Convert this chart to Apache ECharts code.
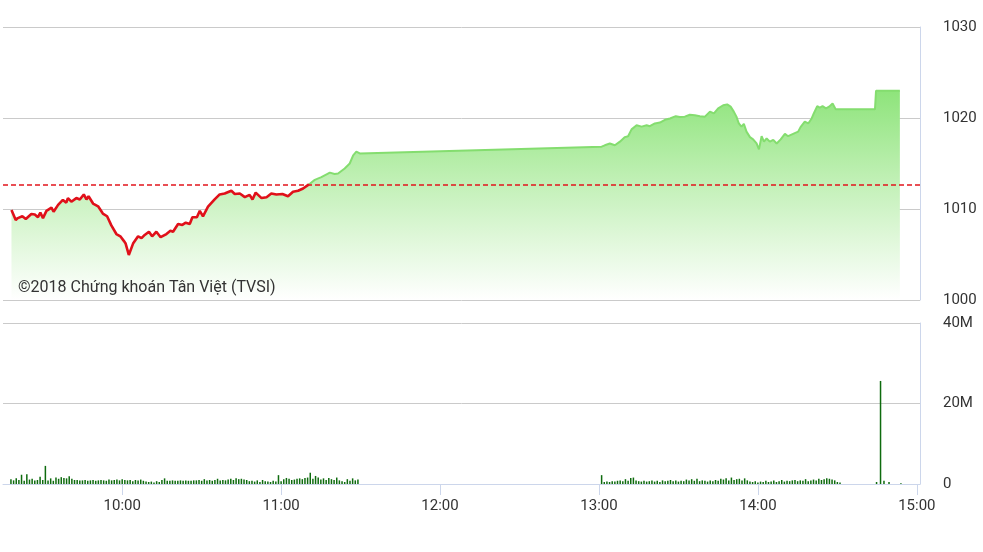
<!DOCTYPE html>
<html>
<head>
<meta charset="utf-8">
<script src="https://cdn.jsdelivr.net/npm/echarts@6/dist/echarts.min.js"></script>
<style>
html,body{margin:0;padding:0;background:#fff;}
#chart{width:983px;height:552px;}
</style>
</head>
<body>
<div id="chart"></div>
<script>
// ---- data (time in minutes of the day) ----
var referencePrice = 1012.64;

var morningTimes = [558.2,559.8,560.6,562.3,563.6,565.7,567.0,568.2,569.1,570.1,571.4,573.3,574.1,575.8,577.6,578.9,579.5,580.8,582.7,584.0,585.5,586.5,587.3,589.0,590.9,592.7,594.3,595.9,597.8,599.3,600.6,601.3,602.5,604.1,606.0,607.3,608.5,610.1,611.3,612.9,614.5,616.7,618.2,619.2,621.1,622.7,624.0,625.5,626.5,628.2,629.3,630.5,632.4,634.9,636.8,638.7,641.2,642.5,644.4,646.3,648.1,649.2,650.4,652.6,654.5,656.3,658.2,660.5,662.6,664.5,666.4,668.3,670.5,672.7,675.2,678.4,680.2,681.5,684.0,685.9,687.2,688.4,689.7];
var morningPrices = [1009.9,1008.8,1009.0,1009.2,1008.9,1009.45,1009.4,1009.1,1009.6,1009.0,1009.8,1010.15,1009.7,1010.45,1011.0,1010.7,1011.2,1010.8,1011.2,1011.05,1011.6,1011.05,1011.4,1010.6,1010.3,1009.5,1009.2,1008.2,1007.25,1007.0,1006.5,1006.2,1004.95,1006.2,1007.0,1006.8,1007.15,1007.5,1007.0,1007.5,1006.9,1007.25,1007.6,1007.5,1008.35,1008.25,1008.5,1008.35,1009.1,1009.1,1009.8,1009.2,1010.25,1011.05,1011.6,1011.7,1012.0,1011.65,1011.7,1011.3,1011.55,1011.05,1011.8,1011.2,1011.3,1011.7,1011.6,1011.65,1011.4,1011.9,1012.0,1012.25,1012.7,1013.2,1013.5,1014.0,1013.85,1013.9,1014.45,1015.0,1015.9,1016.3,1016.1];

var afternoonTimes = [781.0,782.2,782.9,784.1,784.7,786.0,787.9,788.5,789.8,791.0,792.3,794.2,796.1,798.0,799.2,801.1,803.0,804.9,806.8,809.0,810.5,812.4,814.3,816.2,818.1,820.0,821.9,823.4,825.0,826.9,828.4,829.7,830.9,831.9,832.8,833.8,834.7,835.7,837.0,838.2,839.5,840.4,841.4,842.3,843.3,844.5,845.8,847.1,848.6,850.2,851.4,853.3,855.2,856.1,857.7,859.0,860.3,861.1,862.4,863.4,864.4,865.7,866.9,868.2,869.4,884.2,884.6,893.6];
var afternoonPrices = [1016.85,1017.0,1017.15,1017.2,1017.3,1017.0,1017.4,1017.6,1017.9,1018.0,1018.75,1019.2,1019.05,1019.2,1019.1,1019.4,1019.5,1019.8,1019.95,1020.2,1020.1,1020.15,1020.35,1020.3,1020.2,1020.15,1020.7,1020.5,1021.05,1021.4,1021.5,1021.25,1020.7,1020.15,1019.4,1019.05,1019.35,1018.5,1017.9,1017.65,1017.2,1016.55,1018.0,1017.4,1017.75,1017.4,1017.6,1017.2,1017.65,1018.25,1018.0,1018.25,1018.5,1019.0,1019.6,1019.4,1019.95,1020.5,1021.3,1021.15,1021.3,1021.05,1021.25,1021.6,1020.95,1020.95,1023.0,1023.0];

// volume in millions, one bar per minute
var volMorningStart = 558;
var volMorning = [1.2,0.9,1.4,1.0,2.3,0.8,2.4,1.1,1.3,0.9,
  1.0,1.8,1.0,4.5,0.9,1.4,0.8,1.6,1.3,1.7,
  1.5,1.4,1.9,1.3,1.0,1.0,0.9,0.9,1.0,0.8,
  0.9,1.0,0.8,0.9,1.0,0.9,0.8,1.1,0.9,1.0,
  1.1,0.9,1.2,1.0,0.9,1.0,0.7,1.0,0.9,1.1,
  0.8,0.6,0.5,0.6,0.4,0.7,0.5,1.0,1.4,0.8,
  0.8,0.9,0.8,0.8,0.9,0.8,0.9,0.8,0.8,0.9,
  0.9,1.0,0.8,1.2,0.9,1.0,0.8,1.0,1.3,0.9,
  1.0,0.9,1.1,1.3,1.0,1.4,1.2,1.3,1.1,1.0,
  0.7,0.8,0.6,0.9,0.5,1.0,0.7,0.6,0.5,0.8,
  0.6,2.2,0.7,1.2,1.5,1.3,1.0,1.1,1.3,1.4,
  1.2,1.5,1.6,2.8,1.3,2.0,1.6,1.1,1.4,1.0,
  1.5,1.2,1.0,1.6,0.9,0.7,0.5,1.2,0.8,1.4,
  0.9,1.1];
var volAfternoonStart = 781;
var volAfternoon = [2.2,0.5,0.6,0.5,0.7,0.6,0.8,0.9,0.7,1.2,
  0.8,1.5,1.6,0.9,0.7,0.6,0.8,0.6,0.7,0.9,
  0.6,0.8,0.5,0.9,0.7,0.8,1.0,0.7,0.9,0.6,
  0.8,0.7,1.1,0.9,1.2,0.8,1.3,0.7,0.9,0.8,
  0.6,0.9,0.7,1.0,0.8,1.3,1.1,1.4,0.9,1.6,
  1.0,1.2,1.3,0.9,1.4,0.9,0.6,0.5,0.7,0.4,
  0.6,0.5,0.8,0.5,0.6,0.9,0.5,0.7,1.0,0.6,
  0.8,0.7,0.9,1.0,0.7,0.9,0.8,1.2,0.7,0.9,
  1.1,0.9,1.3,1.0,1.2,1.4,1.3,1.1,0.9,0.5,
  0.4];
var atcTimes = [884.8,886.3,887.6,889.5,894.0];
var atcVols = [0.5,25.6,0.8,0.5,0.2];

var xTickLabels = ['10:00','11:00','12:00','13:00','14:00','15:00'];
var priceTicks = [1000,1010,1020,1030];
var volTickLabels = ['0','20M','40M'];
var copyrightText = '©2018 Chứng khoán Tân Việt (TVSI)';

// ---- build series data ----
var priceData = [];
morningTimes.forEach(function(t,i){ priceData.push([t, morningPrices[i]]); });
afternoonTimes.forEach(function(t,i){ priceData.push([t, afternoonPrices[i]]); });
// split at the first crossing of the reference price
var crossIdx = 0;
for (var i=0;i<priceData.length;i++){ if (priceData[i][1] >= referencePrice){ crossIdx = i; break; } }
var redData = priceData.slice(0, crossIdx+1);
var greenData = priceData.slice(crossIdx);

var volData = [];
volMorning.forEach(function(v,i){ volData.push([volMorningStart + i, v*1e6]); });
volAfternoon.forEach(function(v,i){ volData.push([volAfternoonStart + i, v*1e6]); });
atcTimes.forEach(function(t,i){ volData.push([t, atcVols[i]*1e6]); });

function toMin(s){ var p=s.split(':'); return (+p[0])*60+(+p[1]); }
function toLabel(m){ var h=Math.floor(m/60), mm=Math.round(m%60); return (h<10?'0':'')+h+':'+(mm<10?'0':'')+mm; }
var xTickValues = xTickLabels.map(toMin);

var FONT = 'Roboto, "Noto Sans", sans-serif';
var X_MIN = 555, X_MAX = 901.2;

var chart = echarts.init(document.getElementById('chart'), null, {renderer:'canvas'});
chart.setOption({
  animation:false,
  backgroundColor:'#fff',
  textStyle:{fontFamily:FONT},
  grid:[
    {left:3, right:63, top:27, height:273},
    {left:3, right:63, top:323, height:161}
  ],
  xAxis:[
    {gridIndex:0, type:'value', min:X_MIN, max:X_MAX, show:false, splitLine:{show:false}},
    {gridIndex:1, type:'value', min:X_MIN, max:X_MAX,
      axisLine:{show:true, lineStyle:{color:'#ccd6eb', width:1}},
      axisTick:{show:true, length:11, lineStyle:{color:'#ccd6eb'}, customValues:xTickValues},
      axisLabel:{show:true, customValues:xTickValues, formatter:function(v){return toLabel(v);},
        fontSize:15, color:'#333', margin:15, fontFamily:FONT},
      splitLine:{show:false}
    }
  ],
  yAxis:[
    {gridIndex:0, type:'value', position:'right', min:priceTicks[0], max:priceTicks[priceTicks.length-1], interval:10,
      axisLine:{show:true, lineStyle:{color:'#ccd6eb'}},
      axisTick:{show:false},
      axisLabel:{fontSize:15, color:'#333', margin:23, fontFamily:FONT, padding:[3,0,0,0], formatter:function(v){ return String(v); }},
      splitLine:{show:true, lineStyle:{color:'#cacaca', width:1}}
    },
    {gridIndex:1, type:'value', position:'right', min:0, max:40e6, interval:20e6,
      axisLine:{show:true, lineStyle:{color:'#ccd6eb'}},
      axisTick:{show:false},
      axisLabel:{fontSize:15, color:'#333', margin:23, fontFamily:FONT, padding:[3,0,0,0],
        formatter:function(v){ return volTickLabels[Math.round(v/20e6)]; }},
      splitLine:{show:true, lineStyle:{color:'#cacaca', width:1}}
    }
  ],
  series:[
    {
      type:'line', xAxisIndex:0, yAxisIndex:0, data:priceData,
      showSymbol:false, symbol:'none',
      lineStyle:{width:0, opacity:0},
      areaStyle:{origin:'start', opacity:1, color:{type:'linear',x:0,y:0,x2:0,y2:1,
        colorStops:[{offset:0,color:'#8ee47b'},{offset:0.5,color:'#c9f2bf'},{offset:1,color:'#ffffff'}]}},
      markLine:{silent:true, symbol:['none','none'], label:{show:false},
        lineStyle:{color:'#e2141c', type:[5,3], width:1.5},
        data:[{yAxis:referencePrice}]},
      z:2
    },
    {
      type:'line', xAxisIndex:0, yAxisIndex:0, data:greenData,
      showSymbol:false, symbol:'none',
      lineStyle:{width:2, color:'#84dd6f'}, itemStyle:{color:'#84dd6f'}, z:3
    },
    {
      type:'line', xAxisIndex:0, yAxisIndex:0, data:redData,
      showSymbol:false, symbol:'none',
      lineStyle:{width:2.6, color:'#e0101a'}, itemStyle:{color:'#e0101a'}, z:4
    },
    {
      type:'bar', xAxisIndex:1, yAxisIndex:1, data:volData,
      barWidth:1.5, itemStyle:{color:'#0e6b0e'}, z:3
    }
  ],
  graphic:[
    {type:'text', left:18, top:280, z:10,
      style:{text:copyrightText, fontSize:16, fill:'#333', fontFamily:FONT}}
  ]
});
</script>
</body>
</html>
